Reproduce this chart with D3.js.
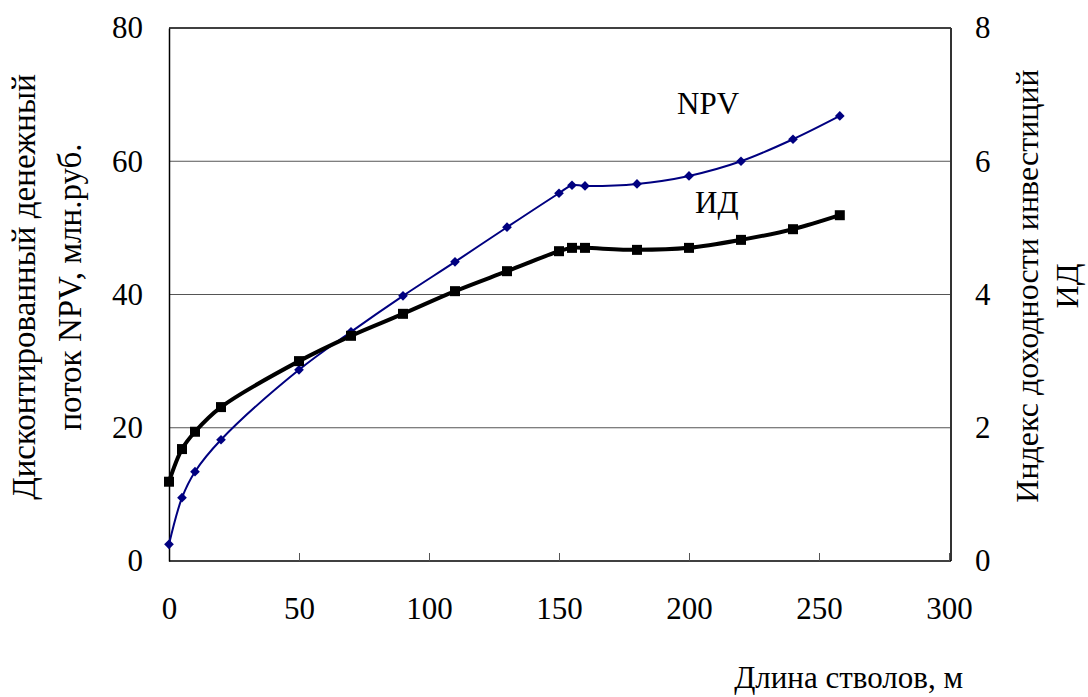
<!DOCTYPE html>
<html>
<head>
<meta charset="utf-8">
<script src="https://cdn.jsdelivr.net/npm/d3@7"></script>
<style>
  body { margin: 0; background: #fff; }
</style>
</head>
<body>
<svg id="chart" width="1088" height="697"></svg>
<script>
// shaft length, m
const lengths = [0, 5, 10, 20, 50, 70, 90, 110, 130, 150, 155, 160, 180, 200, 220, 240, 258];
// NPV, mln rub (left axis)
const npvValues = [2.5, 9.5, 13.4, 18.2, 28.7, 34.4, 39.8, 44.9, 50.1, 55.2, 56.4, 56.3, 56.6, 57.8, 60.0, 63.3, 66.8];
// profitability index (right axis)
const idValues = [1.19, 1.68, 1.94, 2.31, 3.00, 3.38, 3.71, 4.05, 4.35, 4.65, 4.70, 4.70, 4.67, 4.70, 4.82, 4.98, 5.19];

const xTicks = [0, 50, 100, 150, 200, 250, 300];
const leftTicks = [0, 20, 40, 60, 80];
const rightTicks = [0, 2, 4, 6, 8];

const FONT = '"Liberation Serif", "Times New Roman", serif';
const plot = { left: 169, right: 951, top: 28, bottom: 561 };

const svg = d3.select('#chart');

const x = d3.scaleLinear().domain([0, 300]).range([plot.left, 949]);
const yL = d3.scaleLinear().domain([0, 80]).range([plot.bottom, plot.top]);
const yR = d3.scaleLinear().domain([0, 8]).range([plot.bottom, plot.top]);

// gridlines
svg.append('g')
  .selectAll('line')
  .data(leftTicks.filter(d => d > 0 && d < 80))
  .join('line')
  .attr('x1', plot.left).attr('x2', plot.right)
  .attr('y1', d => yL(d)).attr('y2', d => yL(d))
  .attr('stroke', '#555').attr('stroke-width', 1);

// frame top + right
svg.append('line').attr('x1', plot.left).attr('x2', plot.right)
  .attr('y1', plot.top).attr('y2', plot.top)
  .attr('stroke', '#000').attr('stroke-width', 1.5);
svg.append('line').attr('x1', plot.right).attr('x2', plot.right)
  .attr('y1', plot.top).attr('y2', plot.bottom)
  .attr('stroke', '#333').attr('stroke-width', 2);

const styleTicks = g => g.selectAll('text')
  .attr('font-family', FONT).attr('font-size', 31).attr('fill', '#000');

// bottom axis
const xAxis = svg.append('g')
  .attr('transform', `translate(0,${plot.bottom})`)
  .call(d3.axisBottom(x).tickValues(xTicks).tickSizeInner(-8).tickSizeOuter(0).tickPadding(36));
xAxis.select('.domain').attr('stroke', '#000').attr('stroke-width', 1.5)
  .attr('d', `M${plot.left},0H${plot.right}`);
xAxis.selectAll('.tick line').attr('stroke', '#555');
xAxis.call(styleTicks);

// left axis
const leftAxis = svg.append('g')
  .attr('transform', `translate(${plot.left},0)`)
  .call(d3.axisLeft(yL).tickValues(leftTicks).tickSize(0).tickPadding(26));
leftAxis.select('.domain').attr('stroke', '#000').attr('stroke-width', 1.5);
leftAxis.call(styleTicks);

// right axis
const rightAxis = svg.append('g')
  .attr('transform', `translate(${plot.right},0)`)
  .call(d3.axisRight(yR).tickValues(rightTicks).tickSize(0).tickPadding(24));
rightAxis.select('.domain').remove();
rightAxis.call(styleTicks);

const curve = d3.curveCatmullRom.alpha(0.5);

// NPV series
const npvPts = lengths.map((l, i) => [x(l), yL(npvValues[i])]);
svg.append('path')
  .attr('d', d3.line().curve(curve)(npvPts))
  .attr('fill', 'none').attr('stroke', '#000080').attr('stroke-width', 2);
svg.append('g')
  .selectAll('path')
  .data(npvPts)
  .join('path')
  .attr('transform', d => `translate(${d[0]},${d[1]})`)
  .attr('d', d3.symbol(d3.symbolDiamond2, 60))
  .attr('fill', '#000080');

// ID series
const idPts = lengths.map((l, i) => [x(l), yR(idValues[i])]);
svg.append('path')
  .attr('d', d3.line().curve(curve)(idPts))
  .attr('fill', 'none').attr('stroke', '#000').attr('stroke-width', 4);
svg.append('g')
  .selectAll('rect')
  .data(idPts)
  .join('rect')
  .attr('x', d => d[0] - 5).attr('y', d => d[1] - 5)
  .attr('width', 10).attr('height', 10)
  .attr('fill', '#000');

// series labels
const label = (tx, ty, s) => svg.append('text')
  .attr('x', tx).attr('y', ty)
  .attr('font-family', FONT).attr('font-size', 31).attr('fill', '#000')
  .text(s);
label(677, 114, 'NPV');
label(695, 213, 'ИД');

// axis titles
const leftTitle = svg.append('text')
  .attr('transform', 'translate(35,287) rotate(-90)')
  .attr('text-anchor', 'middle')
  .attr('font-family', FONT).attr('font-size', 33).attr('fill', '#000');
leftTitle.append('tspan').attr('x', 0).attr('dy', 0).text('Дисконтированный денежный');
leftTitle.append('tspan').attr('x', 0).attr('dy', 46).text('поток NPV, млн.руб.');

const rightTitle = svg.append('text')
  .attr('transform', 'translate(1038,286) rotate(-90)')
  .attr('text-anchor', 'middle')
  .attr('font-family', FONT).attr('font-size', 32).attr('fill', '#000');
rightTitle.append('tspan').attr('x', 0).attr('dy', 0).text('Индекс доходности инвестиций');
rightTitle.append('tspan').attr('x', 0).attr('dy', 40).text('ИД');

svg.append('text').attr('x', 963).attr('y', 688)
  .attr('text-anchor', 'end')
  .attr('font-family', FONT).attr('font-size', 31).attr('fill', '#000')
  .text('Длина стволов, м');
</script>
</body>
</html>
